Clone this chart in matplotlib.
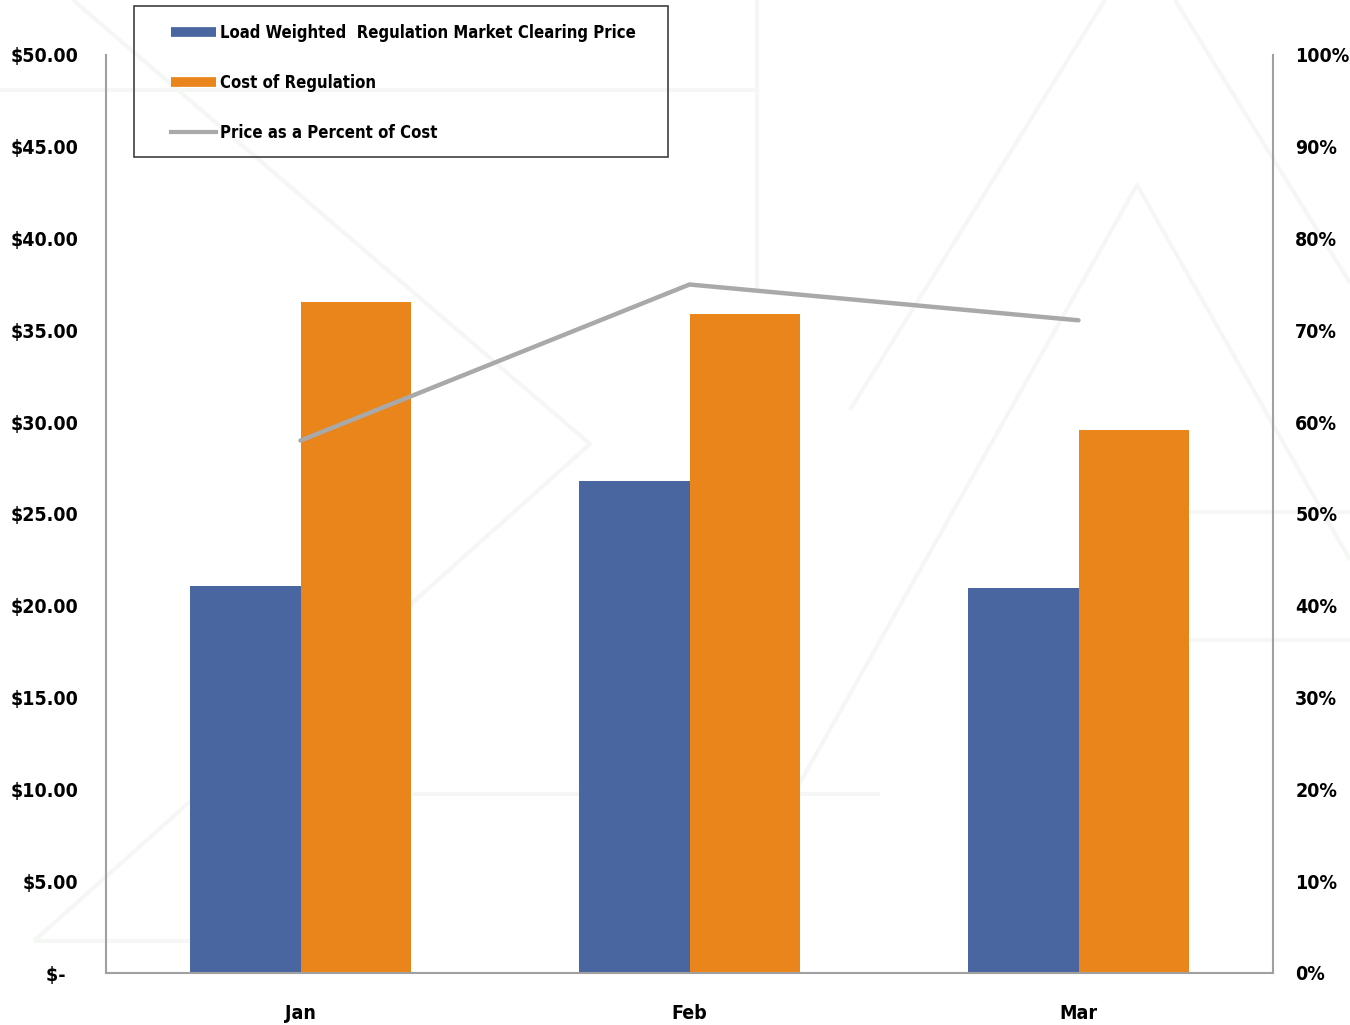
import numpy as np
import matplotlib
matplotlib.use('Agg')
from matplotlib import pyplot as plt
from matplotlib import font_manager as fm
from matplotlib.lines import Line2D
from matplotlib.patches import Rectangle
from matplotlib.ticker import FuncFormatter

# narrow bold font like the original (Arial Narrow); fall back if missing
fonts = [(f.name, f.stretch) for f in fm.fontManager.ttflist]
if any(n == 'Liberation Sans Narrow' for n, s in fonts):
    plt.rcParams['font.family'] = ['Liberation Sans Narrow', 'DejaVu Sans']
    fs, lfs = 16, 15
elif any(n == 'DejaVu Sans' and s in ('condensed', 'semi-condensed') for n, s in fonts):
    plt.rcParams['font.family'] = ['DejaVu Sans']
    plt.rcParams['font.stretch'] = 'condensed'
    fs, lfs = 14, 12
else:
    plt.rcParams['font.family'] = ['Liberation Sans', 'DejaVu Sans']
    fs, lfs = 15, 12
plt.rcParams['font.weight'] = 'bold'

months = ['Jan', 'Feb', 'Mar']
clearing_price = [21.08, 26.80, 20.97]
cost_of_regulation = [36.55, 35.89, 29.58]
price_pct_cost = [0.58, 0.75, 0.711]

price_ticks = [0, 5, 10, 15, 20, 25, 30, 35, 40, 45, 50]
pct_ticks = [0, 0.1, 0.2, 0.3, 0.4, 0.5, 0.6, 0.7, 0.8, 0.9, 1.0]

blue = '#4a66a1'
orange = '#e9851a'
gray = '#a9a9a9'

W, H = 1350, 1025
fig = plt.figure(figsize=(W / 100, H / 100), dpi=100, facecolor='white')

# very faint watermark in the background
bg = fig.add_axes([0, 0, 1, 1], zorder=-5)
bg.set_xlim(0, W)
bg.set_ylim(H, 0)
bg.axis('off')
wm = '#f5f7f5'
wm_lines = [
    ([700, 1137, 1350], [960, 185, 560]),
    ([850, 1105], [410, 0]),
    ([1175, 1350], [0, 283]),
    ([1190, 1350], [512, 512]),
    ([1190, 1350], [640, 640]),
    ([757, 757], [0, 290]),
    ([0, 757], [90, 90]),
    ([73, 590, 34], [0, 444, 941]),
    ([34, 405], [941, 941]),
    ([413, 880], [794, 794]),
]
for xs, ys in wm_lines:
    bg.plot(xs, ys, color=wm, lw=3, solid_capstyle='butt')

ax = fig.add_axes([106 / W, 1 - 973 / H, (1273 - 106) / W, (973 - 55) / H])
ax.set_facecolor('none')
x = np.arange(len(months))
bw = 0.285
ax.bar(x - bw / 2, clearing_price, bw, color=blue, zorder=2)
ax.bar(x + bw / 2, cost_of_regulation, bw, color=orange, zorder=2)

ax.set_xlim(-0.5, 2.5)
ax.set_ylim(0, 50)
ax.set_yticks(price_ticks)
ax.yaxis.set_major_formatter(FuncFormatter(lambda v, p: '$-  ' if v == 0 else '${:.2f}'.format(v)))
ax.set_xticks(x)
ax.set_xticklabels(months)
ax.tick_params(axis='y', length=0, pad=20, labelsize=fs)
ax.tick_params(axis='x', length=0, pad=22, labelsize=fs)
for s in ['top', 'right']:
    ax.spines[s].set_visible(False)
for s in ['left', 'bottom']:
    ax.spines[s].set_color('#a0a0a0')
    ax.spines[s].set_linewidth(1.5)

ax2 = ax.twinx()
ax2.plot(x, price_pct_cost, color=gray, lw=3.2, zorder=3, solid_capstyle='round')
ax2.set_ylim(0, 1)
ax2.set_yticks(pct_ticks)
ax2.yaxis.set_major_formatter(FuncFormatter(lambda v, p: '{:.0f}%'.format(v * 100)))
ax2.tick_params(axis='y', length=0, pad=16, labelsize=fs)
for s in ['top', 'left', 'bottom']:
    ax2.spines[s].set_visible(False)
ax2.spines['right'].set_color('#a0a0a0')
ax2.spines['right'].set_linewidth(1.5)

handles = [
    Line2D([], [], color=blue, lw=7, solid_capstyle='butt'),
    Line2D([], [], color=orange, lw=7, solid_capstyle='butt'),
    Line2D([], [], color=gray, lw=3),
]
labels = ['Load Weighted  Regulation Market Clearing Price', 'Cost of Regulation',
          'Price as a Percent of Cost']
lpx = lfs * 100 / 72
fig.legend(handles, labels, loc='upper left', bbox_to_anchor=(171 / W, 1 - 23.5 / H),
           frameon=False, borderpad=0, borderaxespad=0, handlelength=45 / lpx,
           handletextpad=4 / lpx, labelspacing=48.8 / lpx - 1.0, fontsize=lfs)
fig.patches.append(Rectangle((134 / W, 1 - 157 / H), (668 - 134) / W, (157 - 6) / H,
                             transform=fig.transFigure, fill=False,
                             edgecolor='#404040', lw=1.2))

fig.savefig('out.png', dpi=100, facecolor='white')
